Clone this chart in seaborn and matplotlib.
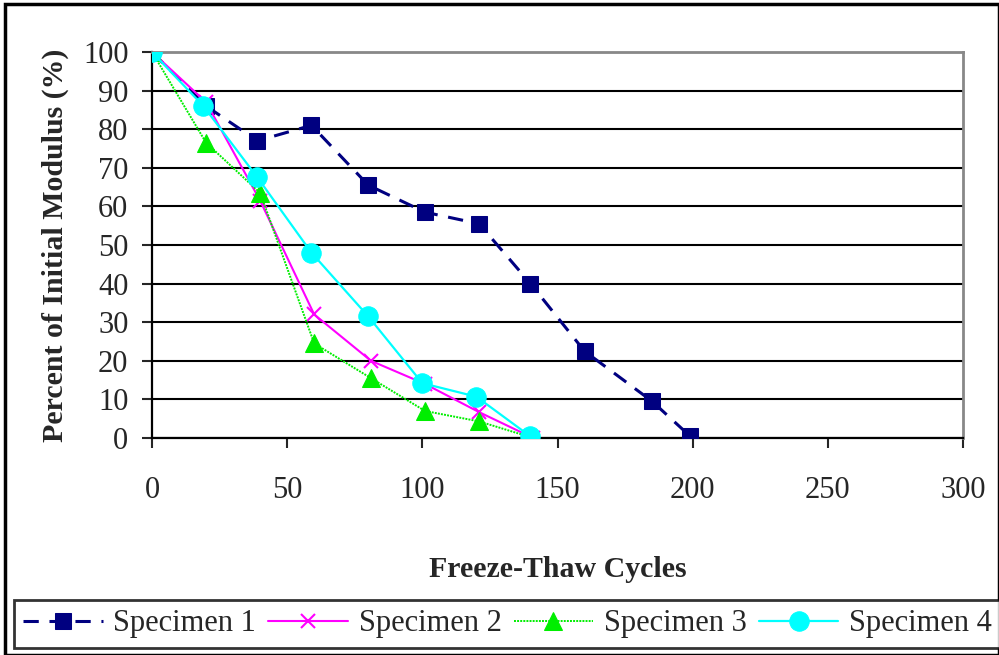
import pandas as pd
import matplotlib.pyplot as plt
import seaborn as sns
from matplotlib.patches import Rectangle

# values
cycles_1 = [0, 20, 39, 59, 80, 101, 121, 140, 160, 185, 199]
modulus_1 = [100, 86, 77, 81, 65.5, 58.5, 55.5, 40, 22.5, 9.5, 0.5]

cycles_2 = [0, 20, 40, 60, 81, 101, 121, 141]
modulus_2 = [100, 87, 61.5, 32, 20, 14, 6.7, 0]

cycles_3 = [0, 20, 40, 60, 81, 101, 121, 141]
modulus_3 = [100, 76.5, 63.5, 24.5, 15.5, 7, 4.3, 0]

cycles_4 = [0, 19, 39, 59, 80, 100, 120, 140]
modulus_4 = [100, 86, 67.5, 48, 31.5, 14.2, 10.7, 0.4]

names = ['Specimen 1', 'Specimen 2', 'Specimen 3', 'Specimen 4']
x_ticks = [0, 50, 100, 150, 200, 250, 300]
y_ticks = [0, 10, 20, 30, 40, 50, 60, 70, 80, 90, 100]


def make_df():
    frames = []
    for name, x, y in zip(names, [cycles_1, cycles_2, cycles_3, cycles_4],
                          [modulus_1, modulus_2, modulus_3, modulus_4]):
        frames.append(pd.DataFrame({'cycles': x, 'modulus': y, 'specimen': name}))
    return pd.concat(frames, ignore_index=True)


styles = {
    'Specimen 1': dict(color='#000080', marker='s', markersize=11.5, linewidth=2.2,
                       linestyle=(0, (5, 3.5))),
    'Specimen 2': dict(color='#FF00FF', marker='x', markersize=10, linewidth=1.5,
                       markeredgewidth=1.5, linestyle='-'),
    'Specimen 3': dict(color='#00EE00', marker='^', markersize=13, linewidth=1.4,
                       linestyle=(0, (1, 0.6))),
    'Specimen 4': dict(color='#00FFFF', marker='o', markersize=14, linewidth=1.6,
                       linestyle='-'),
}

sns.set_style('white')
plt.rcParams['font.family'] = ['Liberation Serif', 'DejaVu Serif']

df = make_df()
fig = plt.figure(figsize=(9.99, 6.55), dpi=100)
ax_w = 963 - 152
ax = fig.add_axes([152 / 999, 1 - 438 / 655, ax_w / 999, (438 - 52) / 655])

for name in names:
    sub = df[df['specimen'] == name]
    st = styles[name]
    sns.lineplot(data=sub, x='cycles', y='modulus', ax=ax, label=name,
                 estimator=None, sort=False, markeredgecolor=st['color'],
                 zorder=3, **st)

ax.set_xlim(0, 300)
ax.set_ylim(0, 100)
ax.set_xticks(x_ticks)
ax.set_yticks(y_ticks)
ax.yaxis.grid(True, color='black', linewidth=1.5)
ax.set_axisbelow(True)
for side in ['top', 'right']:
    ax.spines[side].set_color('#888888')
    ax.spines[side].set_linewidth(2)
for side in ['left', 'bottom']:
    ax.spines[side].set_color('black')
    ax.spines[side].set_linewidth(1.6)
ax.tick_params(axis='x', direction='out', length=7, width=1.5, pad=20,
               labelsize=22, bottom=True)
ax.tick_params(axis='y', direction='out', length=7, width=1.5, pad=10,
               labelsize=22, left=True)

ax.set_xlabel('Freeze-Thaw Cycles', fontsize=21.5, fontweight='bold', labelpad=37)
ax.set_ylabel('Percent of Initial Modulus (%)', fontsize=21.5, fontweight='bold')
ax.yaxis.set_label_coords((69 - 152) / ax_w, 0.5)

handles, labels = ax.get_legend_handles_labels()
ax.get_legend().remove()
leg = fig.legend(handles, labels, loc='lower center', ncol=4,
                 bbox_to_anchor=(0.508, 0.002), fontsize=22, frameon=True,
                 fancybox=False, edgecolor='black', handlelength=2.6,
                 handletextpad=0.35, columnspacing=0.4, borderpad=0.3,
                 borderaxespad=0.2)
leg.get_frame().set_linewidth(2)

fig.patches.append(Rectangle((5 / 999, 0), 1 - 5 / 999, 1 - 4 / 655,
                             transform=fig.transFigure, fill=False,
                             edgecolor='black', linewidth=2.5))

fig.savefig('out.png', dpi=100)
